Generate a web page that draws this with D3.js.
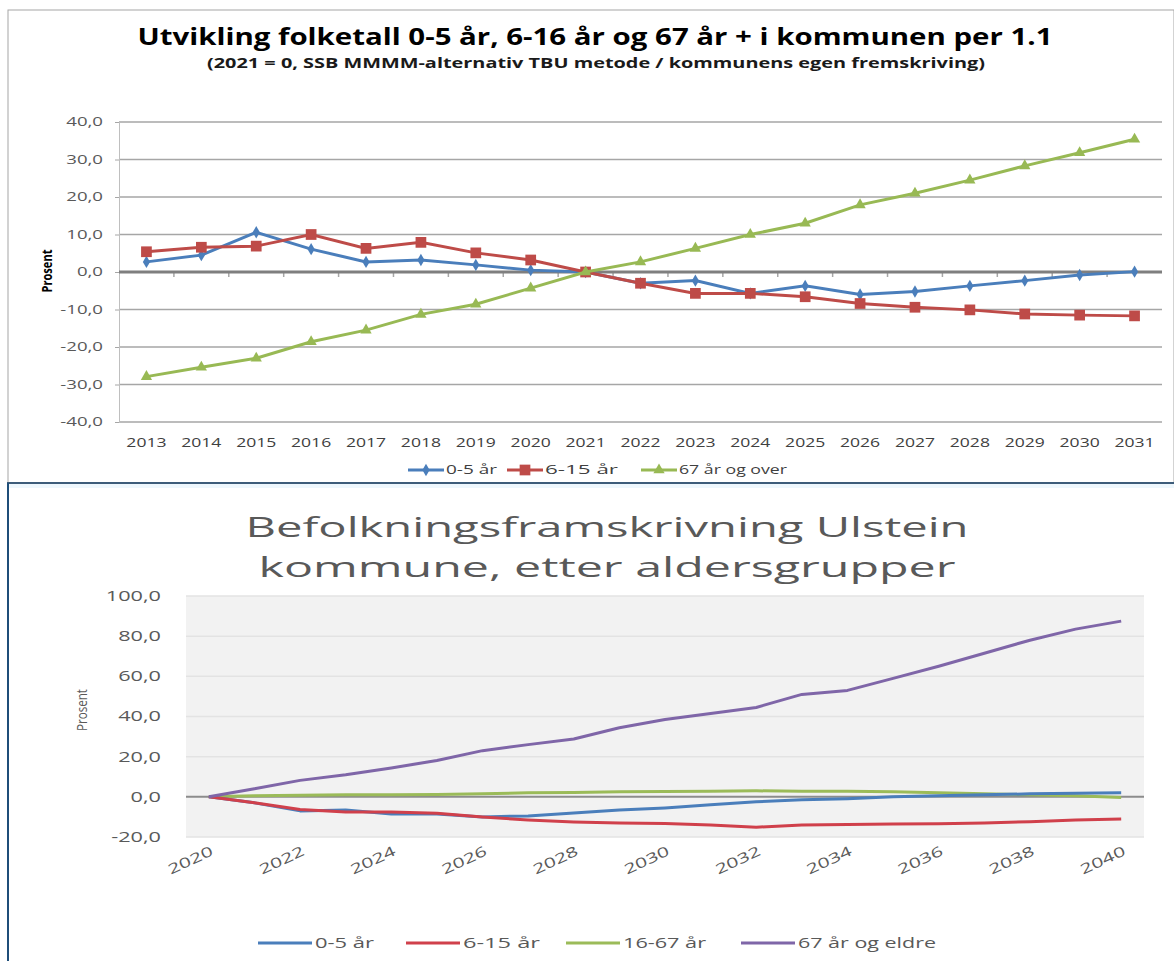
<!DOCTYPE html>
<html>
<head>
<meta charset="utf-8">
<script src="https://cdn.jsdelivr.net/npm/d3@7"></script>
<style>
  body { margin: 0; background: #fff; }
  text { font-family: "Open Sans", sans-serif; }
</style>
</head>
<body>
<script>
// ---- data: top chart (2021 = 0) ----
const yearsTop = d3.range(2013, 2032).map(String);
const age0to5Top = [2.7, 4.5, 10.6, 6.1, 2.7, 3.2, 1.9, 0.5, 0, -3.0, -2.3, -5.7, -3.7, -6.0, -5.2, -3.7, -2.3, -0.8, 0.1];
const age6to15Top = [5.4, 6.6, 6.9, 10.0, 6.3, 7.9, 5.1, 3.2, 0, -3.0, -5.7, -5.7, -6.6, -8.4, -9.4, -10.1, -11.2, -11.5, -11.7];
const age67Top = [-27.9, -25.4, -23.0, -18.6, -15.5, -11.3, -8.6, -4.3, 0, 2.7, 6.3, 10.0, 13.0, 17.9, 21.0, 24.5, 28.3, 31.8, 35.4];
const topTicks = [-40, -30, -20, -10, 0, 10, 20, 30, 40];

// ---- data: bottom chart (2020 = 0) ----
const yearsBottom = d3.range(2020, 2041).map(String);
const age0to5Bottom = [0, -3, -7, -6.5, -8.5, -8.5, -10, -9.5, -8, -6.5, -5.5, -4, -2.5, -1.5, -1, 0, 0.5, 1, 1.5, 1.8, 2];
const age6to15Bottom = [0, -3, -6.3, -7.5, -7.5, -8.2, -10.1, -11.5, -12.5, -13, -13.3, -14, -15.1, -14, -13.8, -13.5, -13.4, -13, -12.4, -11.5, -11];
const age16to67Bottom = [0, 0.5, 0.8, 1, 1, 1.2, 1.5, 2, 2.2, 2.5, 2.6, 2.8, 3, 2.8, 2.8, 2.5, 2, 1.5, 1, 0.5, -0.3];
const age67Bottom = [0, 4, 8.2, 11, 14.4, 18.1, 23, 26, 28.8, 34.4, 38.5, 41.5, 44.5, 51, 53, 59, 65, 71.5, 78, 83.5, 87.5];
const bottomTicks = [-20, 0, 20, 40, 60, 80, 100];

const fmt = d => d3.format(".1f")(d).replace(".", ",").replace("−", "-");

// the source picture is stretched sideways, so text is widened to match
function stretch(sel, k) {
  sel.each(function() {
    const w = this.getComputedTextLength();
    d3.select(this).attr("textLength", w * k).attr("lengthAdjust", "spacingAndGlyphs");
  });
}

const W = 1174, H = 961;
const svg = d3.select("body").append("svg")
    .attr("width", W)
    .attr("height", H);

// frames
svg.append("rect")
    .attr("x", 8).attr("y", 10)
    .attr("width", W - 8).attr("height", 473)
    .attr("fill", "#fff")
    .attr("stroke", "#a6a6a6");
svg.append("rect")
    .attr("x", 9).attr("y", 484)
    .attr("width", W - 9).attr("height", 4)
    .attr("fill", "#eef7fd");
svg.append("line")
    .attr("x1", 7).attr("x2", W)
    .attr("y1", 483).attr("y2", 483)
    .attr("stroke", "#3d5c7a").attr("stroke-width", 2);
svg.append("line")
    .attr("x1", 8).attr("x2", 8)
    .attr("y1", 483).attr("y2", H)
    .attr("stroke", "#1f4e79").attr("stroke-width", 2);

// ================= top chart =================
const topBox = {left: 119, right: 1162, top: 122, bottom: 422};
const xTop = d3.scaleBand().domain(yearsTop).range([topBox.left, topBox.right]);
const yTop = d3.scaleLinear().domain([-40, 40]).range([topBox.bottom, topBox.top]);

svg.append("text")
    .attr("x", 595).attr("y", 45)
    .attr("text-anchor", "middle")
    .attr("font-size", 24).attr("font-weight", "bold")
    .attr("fill", "#000")
    .attr("textLength", 915).attr("lengthAdjust", "spacingAndGlyphs")
    .text("Utvikling folketall 0-5 år, 6-16 år og 67 år + i kommunen per 1.1");
svg.append("text")
    .attr("x", 596).attr("y", 68)
    .attr("text-anchor", "middle")
    .attr("font-size", 14).attr("font-weight", "bold")
    .attr("fill", "#1a1a1a")
    .attr("textLength", 778).attr("lengthAdjust", "spacingAndGlyphs")
    .text("(2021 = 0, SSB MMMM-alternativ TBU metode / kommunens egen fremskriving)");

const gTop = svg.append("g");

gTop.append("g")
    .selectAll("line")
    .data(topTicks.filter(d => d !== 0))
    .join("line")
    .attr("x1", topBox.left).attr("x2", topBox.right)
    .attr("y1", d => yTop(d)).attr("y2", d => yTop(d))
    .attr("stroke", "#a6a6a6").attr("stroke-width", 1.5);

gTop.append("g")
    .attr("transform", `translate(${topBox.left},0)`)
    .call(d3.axisLeft(yTop).tickValues(topTicks).tickFormat(fmt).tickSize(4))
    .call(g => g.select(".domain").attr("stroke", "#bfbfbf"))
    .call(g => g.selectAll(".tick line").attr("stroke", "#a6a6a6"))
    .call(g => g.selectAll(".tick text")
        .attr("font-size", 12).attr("fill", "#595959").attr("x", -16)
        .style("font-family", "'Open Sans', sans-serif")
        .call(stretch, 1.55));

gTop.append("text")
    .attr("transform", `translate(52,271) rotate(-90)`)
    .attr("text-anchor", "middle")
    .attr("font-size", 15).attr("font-weight", "bold")
    .attr("textLength", 43).attr("lengthAdjust", "spacingAndGlyphs")
    .text("Prosent");

// zero axis with category tick marks
gTop.append("g")
    .selectAll("line")
    .data(yearsTop.slice(1))
    .join("line")
    .attr("x1", d => xTop(d)).attr("x2", d => xTop(d))
    .attr("y1", yTop(0)).attr("y2", yTop(0) + 5)
    .attr("stroke", "#a6a6a6").attr("stroke-width", 1.5);
gTop.append("line")
    .attr("x1", topBox.left).attr("x2", topBox.right)
    .attr("y1", yTop(0)).attr("y2", yTop(0))
    .attr("stroke", "#7f7f7f").attr("stroke-width", 3);

const cx = d => xTop(d) + xTop.bandwidth() / 2;

gTop.append("g")
    .selectAll("text")
    .data(yearsTop)
    .join("text")
    .attr("x", d => cx(d))
    .attr("y", 447)
    .attr("text-anchor", "middle")
    .attr("font-size", 13).attr("fill", "#404040")
    .text(d => d)
    .call(stretch, 1.35);

const topSeries = [
  {name: "0-5 år", values: age0to5Top, color: "#4a7ebb", marker: "diamond"},
  {name: "6-15 år", values: age6to15Top, color: "#be4b48", marker: "square"},
  {name: "67 år og over", values: age67Top, color: "#98b954", marker: "triangle"}
];
const symbolOf = {
  diamond: d3.symbol(d3.symbolDiamond, 45),
  square: d3.symbol(d3.symbolSquare, 115),
  triangle: d3.symbol(d3.symbolTriangle, 55)
};
const lineTop = d3.line()
    .x((d, i) => cx(yearsTop[i]))
    .y(d => yTop(d));

topSeries.forEach(s => {
  gTop.append("path")
      .attr("d", lineTop(s.values))
      .attr("fill", "none")
      .attr("stroke", s.color).attr("stroke-width", 3);
  gTop.append("g")
      .selectAll("path")
      .data(s.values)
      .join("path")
      .attr("transform", (d, i) => `translate(${cx(yearsTop[i])},${yTop(d)})`)
      .attr("d", symbolOf[s.marker]())
      .attr("fill", s.color);
});

// top legend
const legTopX = [408, 507, 641];
const legTopW = [51, 73, 108];
topSeries.forEach((s, i) => {
  const g = gTop.append("g").attr("transform", `translate(${legTopX[i]},470)`);
  g.append("line").attr("x1", 0).attr("x2", 36)
      .attr("stroke", s.color).attr("stroke-width", 3);
  g.append("path").attr("transform", "translate(18,0)")
      .attr("d", symbolOf[s.marker]()).attr("fill", s.color);
  g.append("text").attr("x", 38).attr("dy", "0.35em")
      .attr("font-size", 12).attr("fill", "#404040")
      .attr("textLength", legTopW[i]).attr("lengthAdjust", "spacingAndGlyphs")
      .text(s.name);
});

// ================= bottom chart =================
const botBox = {left: 186, right: 1144, top: 596, bottom: 837};
const xBot = d3.scaleBand().domain(yearsBottom).range([botBox.left, botBox.right]);
const yBot = d3.scaleLinear().domain([-20, 100]).range([botBox.bottom, botBox.top]);
const bx = d => xBot(d) + xBot.bandwidth() / 2;

const titleLines = ["Befolkningsframskrivning Ulstein", "kommune, etter aldersgrupper"];
const titleWidths = [723, 697];
svg.append("g").selectAll("text")
    .data(titleLines)
    .join("text")
    .attr("x", 607)
    .attr("y", (d, i) => 537 + i * 40)
    .attr("text-anchor", "middle")
    .attr("font-size", 28).attr("fill", "#595959")
    .attr("textLength", (d, i) => titleWidths[i]).attr("lengthAdjust", "spacingAndGlyphs")
    .text(d => d);

const gBot = svg.append("g");
gBot.append("rect")
    .attr("x", botBox.left).attr("y", botBox.top)
    .attr("width", botBox.right - botBox.left).attr("height", botBox.bottom - botBox.top)
    .attr("fill", "#f2f2f2");

gBot.append("g")
    .selectAll("line")
    .data(bottomTicks.filter(d => d !== 0))
    .join("line")
    .attr("x1", botBox.left).attr("x2", botBox.right)
    .attr("y1", d => yBot(d)).attr("y2", d => yBot(d))
    .attr("stroke", "#e3e3e3").attr("stroke-width", 1.5);

gBot.append("g")
    .attr("transform", `translate(${botBox.left},0)`)
    .call(d3.axisLeft(yBot).tickValues(bottomTicks).tickFormat(fmt).tickSize(0))
    .call(g => g.select(".domain").remove())
    .call(g => g.selectAll(".tick text")
        .attr("font-size", 14).attr("fill", "#595959").attr("x", -25)
        .style("font-family", "'Open Sans', sans-serif")
        .call(stretch, 1.55));

gBot.append("text")
    .attr("transform", `translate(87,710) rotate(-90)`)
    .attr("text-anchor", "middle")
    .attr("font-size", 15).attr("fill", "#595959")
    .attr("textLength", 42).attr("lengthAdjust", "spacingAndGlyphs")
    .text("Prosent");

gBot.append("line")
    .attr("x1", botBox.left).attr("x2", botBox.right)
    .attr("y1", yBot(0)).attr("y2", yBot(0))
    .attr("stroke", "#8c8c8c").attr("stroke-width", 2);

gBot.append("g")
    .selectAll("text")
    .data(yearsBottom.filter((d, i) => i % 2 === 0))
    .join("text")
    .attr("transform", d => `translate(${bx(d) + 1},${botBox.bottom + 8}) rotate(-25)`)
    .attr("text-anchor", "end")
    .attr("dy", "0.75em")
    .attr("font-size", 14).attr("fill", "#595959")
    .text(d => d)
    .call(stretch, 1.5);

const botSeries = [
  {name: "0-5 år", values: age0to5Bottom, color: "#4a7ebb"},
  {name: "6-15 år", values: age6to15Bottom, color: "#d0404b"},
  {name: "16-67 år", values: age16to67Bottom, color: "#9bbb59"},
  {name: "67 år og eldre", values: age67Bottom, color: "#7f66a8"}
];
const lineBot = d3.line()
    .x((d, i) => bx(yearsBottom[i]))
    .y(d => yBot(d));

[2, 0, 1, 3].forEach(k => {
  const s = botSeries[k];
  gBot.append("path")
      .attr("d", lineBot(s.values))
      .attr("fill", "none")
      .attr("stroke", s.color).attr("stroke-width", 3)
      .attr("stroke-linejoin", "round");
});

const legBotX = [258, 406, 566, 741];
const legBotW = [59, 77, 83, 138];
botSeries.forEach((s, i) => {
  const g = gBot.append("g").attr("transform", `translate(${legBotX[i]},943)`);
  g.append("line").attr("x1", 0).attr("x2", 54)
      .attr("stroke", s.color).attr("stroke-width", 3);
  g.append("text").attr("x", 57).attr("dy", "0.35em")
      .attr("font-size", 14).attr("fill", "#595959")
      .attr("textLength", legBotW[i]).attr("lengthAdjust", "spacingAndGlyphs")
      .text(s.name);
});
</script>
</body>
</html>
